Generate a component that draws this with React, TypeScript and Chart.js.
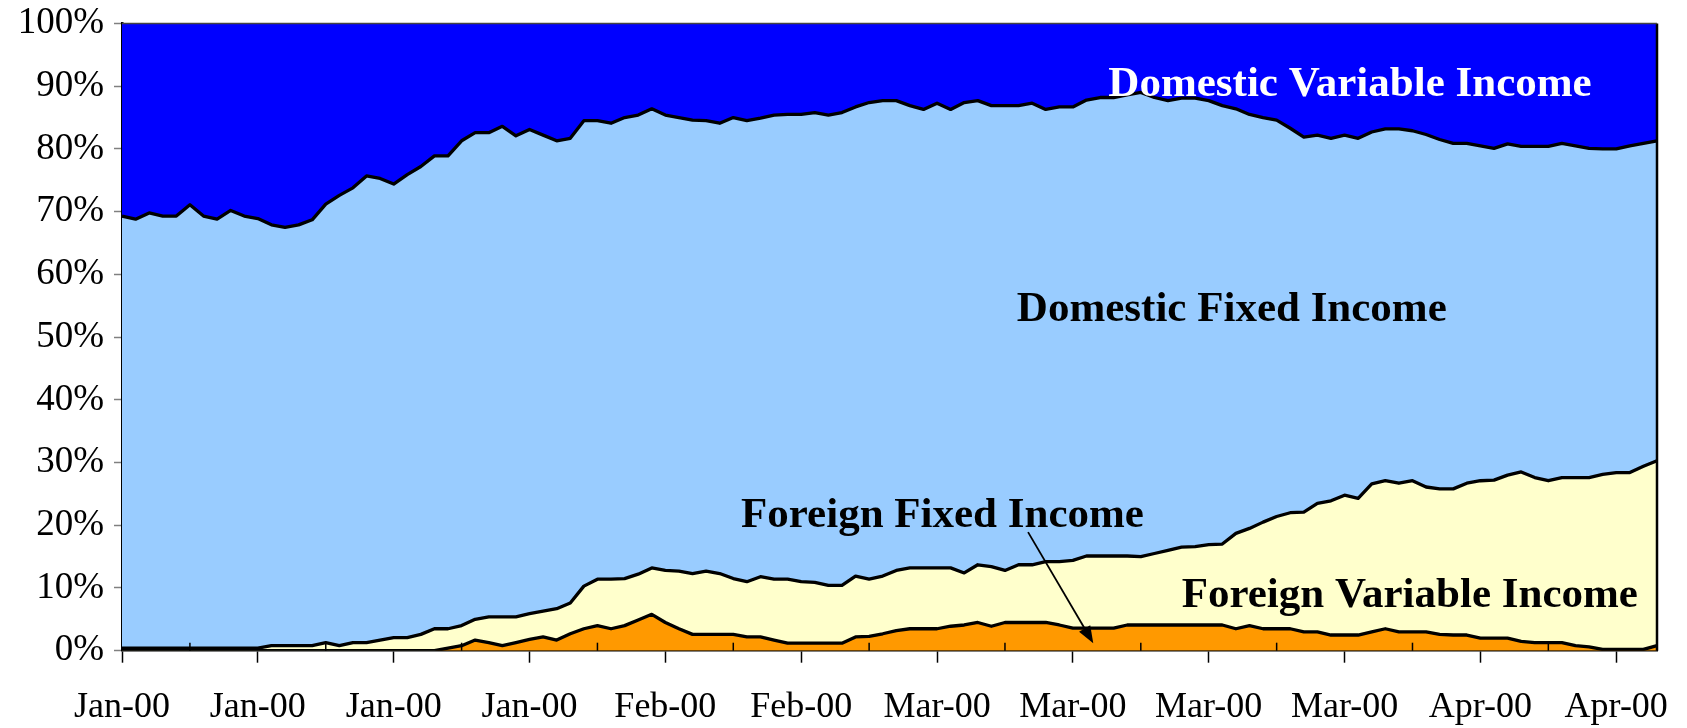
import { useEffect, useRef } from 'react';
import { Chart, registerables } from 'chart.js';

Chart.register(...registerables);

// ---- Data (percent of portfolio) ----
const tickLabels = [
  'Jan-00', 'Jan-00', 'Jan-00', 'Jan-00', 'Feb-00', 'Feb-00',
  'Mar-00', 'Mar-00', 'Mar-00', 'Mar-00', 'Apr-00', 'Apr-00',
];

// orange, bottom layer
const foreignFixed = [
  0, 0, 0, 0, 0, 0, 0, 0, 0, 0,
  0, 0, 0, 0, 0, 0, 0, 0, 0, 0,
  0, 0, 0, 0, 0.4, 0.8, 1.7, 1.3, 0.8, 1.3,
  1.8, 2.2, 1.7, 2.7, 3.5, 4.0, 3.5, 4.0, 4.9, 5.8,
  4.5, 3.5, 2.6, 2.6, 2.6, 2.6, 2.2, 2.2, 1.7, 1.2,
  1.2, 1.2, 1.2, 1.2, 2.2, 2.3, 2.7, 3.2, 3.5, 3.5,
  3.5, 3.9, 4.1, 4.5, 3.9, 4.5, 4.5, 4.5, 4.5, 4.1,
  3.6, 3.6, 3.6, 3.6, 4.1, 4.1, 4.1, 4.1, 4.1, 4.1,
  4.1, 4.1, 3.5, 4.0, 3.5, 3.5, 3.5, 3.0, 3.0, 2.5,
  2.5, 2.5, 3.0, 3.5, 3.0, 3.0, 3.0, 2.6, 2.5, 2.5,
  2.0, 2.0, 2.0, 1.5, 1.3, 1.3, 1.3, 0.8, 0.6, 0.2,
  0.2, 0.2, 0.2, 0.8,
];

// light yellow
const foreignVariable = [
  0.4, 0.4, 0.4, 0.4, 0.4, 0.4, 0.4, 0.4, 0.4, 0.4,
  0.4, 0.8, 0.8, 0.8, 0.8, 1.3, 0.8, 1.3, 1.3, 1.7,
  2.1, 2.1, 2.6, 3.5, 3.1, 3.2, 3.3, 4.1, 4.6, 4.1,
  4.1, 4.1, 5.0, 4.9, 6.8, 7.4, 7.9, 7.5, 7.3, 7.4,
  8.3, 9.2, 9.7, 10.1, 9.7, 8.9, 8.8, 9.6, 9.7, 10.2,
  9.8, 9.7, 9.2, 9.2, 9.7, 9.1, 9.2, 9.6, 9.7, 9.7,
  9.7, 9.3, 8.3, 9.2, 9.5, 8.3, 9.2, 9.2, 9.7, 10.1,
  10.8, 11.5, 11.5, 11.5, 11.0, 10.9, 11.4, 11.9, 12.4, 12.5,
  12.8, 12.9, 15.2, 15.5, 17.0, 17.9, 18.5, 19.1, 20.5, 21.4,
  22.3, 21.8, 23.6, 23.6, 23.7, 24.1, 23.1, 23.2, 23.3, 24.2,
  25.1, 25.2, 26.0, 27.0, 26.3, 25.8, 26.3, 26.8, 27.0, 27.9,
  28.2, 28.2, 29.2, 29.5,
];

// light blue
const domesticFixed = [
  68.9, 68.4, 69.4, 68.9, 68.9, 70.7, 68.9, 68.4, 69.8, 68.9,
  68.5, 67.1, 66.7, 67.1, 67.9, 69.9, 71.8, 72.5, 74.4, 73.6,
  72.3, 73.8, 74.6, 75.4, 75.4, 77.3, 77.6, 77.2, 78.2, 76.7,
  77.2, 75.9, 74.6, 74.1, 74.2, 73.1, 72.7, 73.5, 73.2, 73.2,
  72.6, 72.3, 72.3, 71.8, 71.8, 73.5, 73.5, 73.1, 74.0, 74.1,
  74.5, 74.9, 75.0, 75.4, 74.8, 76.0, 75.8, 74.9, 73.7, 73.1,
  74.1, 73.1, 75.0, 74.0, 73.5, 74.1, 73.2, 73.6, 72.1, 72.5,
  72.3, 72.7, 73.1, 73.1, 73.5, 74.0, 72.7, 71.7, 71.6, 71.5,
  70.8, 69.9, 67.7, 66.0, 64.5, 63.2, 61.3, 59.8, 58.7, 57.8,
  57.4, 57.4, 56.1, 56.1, 56.5, 55.8, 56.2, 55.7, 55.1, 54.2,
  53.4, 52.9, 52.8, 51.9, 52.8, 53.3, 53.3, 52.9, 52.5, 51.9,
  51.6, 52.1, 51.5, 51.0,
];

// dark blue, top layer
const domesticVariable = [
  30.7, 31.2, 30.2, 30.7, 30.7, 28.9, 30.7, 31.2, 29.8, 30.7,
  31.1, 32.1, 32.5, 32.1, 31.3, 28.8, 27.4, 26.2, 24.3, 24.7,
  25.6, 24.1, 22.8, 21.1, 21.1, 18.7, 17.4, 17.4, 16.4, 17.9,
  16.9, 17.8, 18.7, 18.3, 15.5, 15.5, 15.9, 15.0, 14.6, 13.6,
  14.6, 15.0, 15.4, 15.5, 15.9, 15.0, 15.5, 15.1, 14.6, 14.5,
  14.5, 14.2, 14.6, 14.2, 13.3, 12.6, 12.3, 12.3, 13.1, 13.7,
  12.7, 13.7, 12.6, 12.3, 13.1, 13.1, 13.1, 12.7, 13.7, 13.3,
  13.3, 12.2, 11.8, 11.8, 11.4, 11.0, 11.8, 12.3, 11.9, 11.9,
  12.3, 13.1, 13.6, 14.5, 15.0, 15.4, 16.7, 18.1, 17.8, 18.3,
  17.8, 18.3, 17.3, 16.8, 16.8, 17.1, 17.7, 18.5, 19.1, 19.1,
  19.5, 19.9, 19.2, 19.6, 19.6, 19.6, 19.1, 19.5, 19.9, 20.0,
  20.0, 19.5, 19.1, 18.7,
];

const POINTS_PER_TICK = 10;
const categories = foreignFixed.map((_, i) =>
  i % POINTS_PER_TICK === 0 ? tickLabels[i / POINTS_PER_TICK] : ''
);

// ---- Annotations (anchored in data coordinates: category index, percent) ----
const annotationTexts = [
  'Domestic Variable Income',
  'Domestic Fixed Income',
  'Foreign Fixed Income',
  'Foreign Variable Income',
];
const annotationIndex = [90.4, 81.7, 60.4, 94.8];
const annotationValue = [88.4, 52.6, 19.8, 7.0];
const annotationColors = ['#ffffff', '#000000', '#000000', '#000000'];
const arrowStart = { index: 66.7, value: 18.9 };
const arrowEnd = { index: 71.5, value: 1.2 };

const W = 1687;
const H = 728;
const SERIF = '"Liberation Serif", "Times New Roman", Times, serif';

const decorPlugin = {
  id: 'decor',
  afterDraw(chart: any) {
    const { ctx, chartArea, scales } = chart;
    const xs = scales.x;
    const ys = scales.y;
    ctx.save();
    // top and right frame
    ctx.strokeStyle = '#000';
    ctx.lineWidth = 2.5;
    ctx.beginPath();
    ctx.moveTo(chartArea.right, chartArea.top);
    ctx.lineTo(chartArea.right, chartArea.bottom);
    ctx.stroke();
    ctx.strokeStyle = '#444';
    ctx.lineWidth = 1.5;
    ctx.beginPath();
    ctx.moveTo(chartArea.left, chartArea.top);
    ctx.lineTo(chartArea.right, chartArea.top);
    ctx.stroke();

    // minor x ticks pointing inside
    ctx.strokeStyle = '#000';
    ctx.lineWidth = 1.5;
    for (let i = POINTS_PER_TICK / 2; i < categories.length; i += POINTS_PER_TICK) {
      const px = xs.getPixelForValue(i);
      ctx.beginPath();
      ctx.moveTo(px, chartArea.bottom);
      ctx.lineTo(px, chartArea.bottom - 8);
      ctx.stroke();
    }

    // annotation texts
    ctx.font = `bold 43px ${SERIF}`;
    ctx.textAlign = 'center';
    ctx.textBaseline = 'alphabetic';
    annotationTexts.forEach((t, k) => {
      ctx.fillStyle = annotationColors[k];
      ctx.fillText(t, xs.getPixelForValue(annotationIndex[k]), ys.getPixelForValue(annotationValue[k]));
    });

    // arrow
    const x0 = xs.getPixelForValue(arrowStart.index);
    const y0 = ys.getPixelForValue(arrowStart.value);
    const x1 = xs.getPixelForValue(arrowEnd.index);
    const y1 = ys.getPixelForValue(arrowEnd.value);
    const ang = Math.atan2(y1 - y0, x1 - x0);
    const headLen = 17;
    const headHalf = 6.5;
    const bx = x1 - headLen * Math.cos(ang);
    const by = y1 - headLen * Math.sin(ang);
    ctx.strokeStyle = '#000';
    ctx.lineWidth = 1.8;
    ctx.beginPath();
    ctx.moveTo(x0, y0);
    ctx.lineTo(bx, by);
    ctx.stroke();
    ctx.fillStyle = '#000';
    ctx.beginPath();
    ctx.moveTo(x1, y1);
    ctx.lineTo(bx + headHalf * Math.sin(ang), by - headHalf * Math.cos(ang));
    ctx.lineTo(bx - headHalf * Math.sin(ang), by + headHalf * Math.cos(ang));
    ctx.closePath();
    ctx.fill();
    ctx.restore();
  },
};

export default function App() {
  const ref = useRef<HTMLCanvasElement>(null);

  useEffect(() => {
    const canvas = ref.current;
    if (!canvas) return;
    const lineCommon = {
      borderColor: '#000000',
      borderWidth: 3.3,
      pointRadius: 0,
      tension: 0,
      borderJoinStyle: 'round' as const,
    };
    const chart = new Chart(canvas, {
      type: 'line',
      data: {
        labels: categories,
        datasets: [
          { label: 'Foreign Fixed Income', data: foreignFixed, backgroundColor: '#FF9900', fill: 'origin', ...lineCommon },
          { label: 'Foreign Variable Income', data: foreignVariable, backgroundColor: '#FFFFCC', fill: '-1', ...lineCommon },
          { label: 'Domestic Fixed Income', data: domesticFixed, backgroundColor: '#99CCFF', fill: '-1', ...lineCommon },
          { label: 'Domestic Variable Income', data: domesticVariable, backgroundColor: '#0000FF', fill: '-1', ...lineCommon, borderWidth: 0 },
        ],
      },
      options: {
        animation: false,
        responsive: false,
        events: [],
        layout: { padding: { left: 0, top: 23.5, right: 30, bottom: 0 } },
        plugins: {
          legend: { display: false },
          tooltip: { enabled: false },
        },
        scales: {
          x: {
            type: 'category',
            offset: false,
            grid: {
              display: true,
              drawOnChartArea: false,
              drawTicks: true,
              tickLength: 12,
              tickWidth: 1.5,
              tickColor: (c: any) => (c.index % POINTS_PER_TICK === 0 ? '#000' : 'rgba(0,0,0,0)'),
            },
            border: { display: true, color: '#000', width: 2.5 },
            ticks: {
              autoSkip: false,
              maxRotation: 0,
              minRotation: 0,
              padding: 23,
              color: '#000',
              font: { family: SERIF, size: 36 },
              callback: (_v: any, i: number) => categories[i],
            },
            afterFit: (s: any) => {
              s.height = 77.3;
              s.paddingLeft = 0;
              s.paddingRight = 0;
            },
          },
          y: {
            stacked: true,
            min: 0,
            max: 100,
            grid: {
              drawOnChartArea: false,
              tickLength: 8,
              tickWidth: 1.5,
              tickColor: '#808080',
            },
            border: { display: true, color: '#000', width: 2.5 },
            ticks: {
              stepSize: 10,
              padding: 10,
              color: '#000',
              font: { family: SERIF, size: 37 },
              callback: (v: any) => `${v}%`,
            },
            afterFit: (s: any) => {
              s.width = 122;
              s.paddingTop = 0;
              s.paddingBottom = 0;
            },
          },
        },
      },
      plugins: [decorPlugin],
    });
    return () => chart.destroy();
  }, []);

  return (
    <div style={{ position: 'absolute', left: 0, top: 0, width: W, height: H, background: '#fff' }}>
      <canvas ref={ref} width={W} height={H} style={{ display: 'block', width: W, height: H }} />
    </div>
  );
}
